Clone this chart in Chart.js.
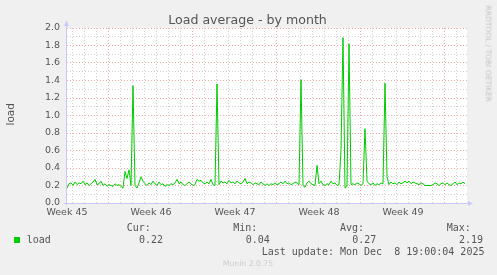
<!DOCTYPE html>
<html><head><meta charset="utf-8">
<script src="https://cdn.jsdelivr.net/npm/chart.js@4.4.1/dist/chart.umd.min.js"></script>
<style>
html,body{margin:0;padding:0;background:#F0F0F0;}
#wrap{position:relative;width:497px;height:275px;overflow:hidden;background:#F0F0F0;}
canvas{position:absolute;left:0;top:0;}
.t{position:absolute;white-space:pre;line-height:1;}
.mono{font-family:"DejaVu Sans Mono",monospace;font-size:10px;color:#555;}
</style></head>
<body><div id="wrap"><canvas id="c" width="497" height="275"></canvas>
<div class="t" style="left:0;top:13.6px;width:495px;text-align:center;font-family:'DejaVu Sans';font-size:12.6px;color:#555;">Load average - by month</div>
<div class="t" style="left:-9.6px;top:109.25px;width:40px;text-align:center;font-family:'DejaVu Sans';font-size:10.5px;color:#555;transform:rotate(-90deg);">load</div>
<div class="t" style="left:427.6px;top:49.75px;width:120px;text-align:center;font-family:'DejaVu Sans';font-size:7.5px;color:#C4C4C4;transform:rotate(90deg);">RRDTOOL / TOBI OETIKER</div>
<div style="position:absolute;left:14px;top:237px;width:6px;height:6px;background:#00CC00;"></div>
<div class="t mono" style="left:26.7px;top:234.7px;">load</div>
<div class="t mono" style="left:126.7px;top:223.2px;">Cur:</div>
<div class="t mono" style="left:233.3px;top:223.2px;">Min:</div>
<div class="t mono" style="left:340px;top:223.2px;">Avg:</div>
<div class="t mono" style="left:446.7px;top:223.2px;">Max:</div>
<div class="t mono" style="left:139px;top:234.7px;">0.22</div>
<div class="t mono" style="left:245.7px;top:234.7px;">0.04</div>
<div class="t mono" style="left:352.3px;top:234.7px;">0.27</div>
<div class="t mono" style="left:459px;top:234.7px;">2.19</div>
<div class="t mono" style="left:261.7px;top:246.5px;">Last update: Mon Dec  8 19:00:04 2025</div>
<div class="t" style="left:0;top:260.2px;width:496px;text-align:center;font-family:'DejaVu Sans';font-size:7.7px;color:#CCCCCC;">Munin 2.0.75</div>
</div>
<script>
// ---- data ----
const WEEK_LABELS = ['Week 45','Week 46','Week 47','Week 48','Week 49'];
const WEEK_CENTERS = [0, 7, 14, 21, 28];          // days from graph start
const DAY_LINE_OFFSET = 0.47;                      // first daily grid line (days)
const WEEK_LINE_OFFSET = 3.47;                     // first week boundary (days)
const RANGE_DAYS = 400 / 12;                       // graph span in days
const STEP_DAYS = 1 / 6;                           // one sample every 4 hours
const Y_MAX = 2.0;
const load = [
  0.17,0.22,0.23,0.20,0.24,0.21,0.23,0.22,0.25,0.21,
  0.23,0.20,0.22,0.24,0.27,0.21,0.22,0.25,0.20,0.22,
  0.19,0.21,0.20,0.19,0.22,0.20,0.21,0.19,0.17,0.36,
  0.28,0.38,0.20,1.34,0.20,0.17,0.23,0.30,0.25,0.22,
  0.20,0.23,0.21,0.25,0.22,0.20,0.24,0.21,0.22,0.19,
  0.21,0.20,0.22,0.21,0.23,0.27,0.22,0.24,0.21,0.20,
  0.22,0.24,0.22,0.20,0.21,0.27,0.25,0.26,0.23,0.22,
  0.24,0.22,0.27,0.21,0.20,1.36,0.21,0.25,0.23,0.24,
  0.22,0.26,0.23,0.24,0.22,0.25,0.23,0.22,0.24,0.28,
  0.22,0.24,0.23,0.21,0.23,0.22,0.21,0.24,0.22,0.20,
  0.22,0.20,0.22,0.21,0.23,0.21,0.22,0.24,0.22,0.25,
  0.22,0.23,0.21,0.22,0.24,0.23,0.21,1.41,0.20,0.18,
  0.23,0.25,0.22,0.21,0.20,0.43,0.22,0.25,0.21,0.20,
  0.22,0.21,0.25,0.22,0.23,0.20,0.21,0.60,1.89,0.17,
  0.19,1.82,0.21,0.22,0.21,0.23,0.22,0.20,0.22,0.85,
  0.25,0.22,0.21,0.23,0.20,0.22,0.21,0.23,0.22,1.37,
  0.30,0.21,0.24,0.22,0.23,0.21,0.24,0.22,0.23,0.25,
  0.23,0.25,0.22,0.24,0.23,0.22,0.21,0.23,0.22,0.20,
  0.20,0.20,0.20,0.21,0.23,0.22,0.20,0.22,0.23,0.21,
  0.23,0.21,0.20,0.22,0.24,0.21,0.23,0.22,0.24,0.22
];

// ---- styles ----
const LINE_COLOR = '#00CC00';
const MAJOR_GRID = 'rgba(238,110,110,0.6)';
const MINOR_GRID = 'rgba(150,150,150,0.45)';
const AXIS_COLOR = 'rgb(200,200,255)';
const TEXT_COLOR = '#555';

const points = load.map((v, i) => ({x: i * STEP_DAYS, y: v}));

function buildXTicks() {
  const t = [];
  WEEK_CENTERS.forEach((v, i) => t.push({value: v, kind: 'label', idx: i}));
  for (let d = DAY_LINE_OFFSET; d < RANGE_DAYS; d += 1) {
    const k = Math.round(d - DAY_LINE_OFFSET);
    const major = ((k - Math.round(WEEK_LINE_OFFSET - DAY_LINE_OFFSET)) % 7) === 0;
    t.push({value: DAY_LINE_OFFSET + k, kind: major ? 'major' : 'minor'});
  }
  t.sort((a, b) => a.value - b.value);
  return t;
}

const bgPlugin = {
  id: 'bg',
  beforeDraw(chart) {
    const {ctx, chartArea: a} = chart;
    ctx.save();
    ctx.fillStyle = '#FFFFFF';
    ctx.fillRect(a.left, a.top, a.right - a.left, a.bottom - a.top);
    ctx.restore();
  },
  afterDatasetsDraw(chart) {
    const {ctx, chartArea: a} = chart;
    ctx.save();
    ctx.strokeStyle = AXIS_COLOR;
    ctx.fillStyle = AXIS_COLOR;
    ctx.lineWidth = 1;
    const x0 = Math.floor(a.left) - 0.5, y0 = Math.floor(a.bottom) + 0.5;
    ctx.beginPath();
    ctx.moveTo(x0, y0 + 2); ctx.lineTo(x0, a.top - 3);
    ctx.moveTo(x0 - 3, y0); ctx.lineTo(a.right + 2, y0);
    ctx.stroke();
    ctx.beginPath();
    ctx.moveTo(x0 - 2.5, a.top - 2); ctx.lineTo(x0 + 2.5, a.top - 2); ctx.lineTo(x0, a.top - 7.5); ctx.closePath();
    ctx.fill();
    ctx.beginPath();
    ctx.moveTo(a.right + 1, y0 - 2.5); ctx.lineTo(a.right + 1, y0 + 2.5); ctx.lineTo(a.right + 6, y0); ctx.closePath();
    ctx.fill();
    ctx.restore();
  }
};

new Chart(document.getElementById('c'), {
  type: 'line',
  data: {
    datasets: [{
      label: 'load',
      data: points,
      borderColor: LINE_COLOR,
      borderWidth: 1,
      pointRadius: 0,
      tension: 0,
      fill: false
    }]
  },
  options: {
    responsive: false,
    animation: false,
    devicePixelRatio: 1,
    layout: {padding: {top: 28, right: 30, bottom: 52, left: 0}},
    plugins: {legend: {display: false}, tooltip: {enabled: false}, title: {display: false}},
    scales: {
      x: {
        type: 'linear',
        min: 0,
        max: RANGE_DAYS,
        afterFit(s) { s.height = 20; },
        afterBuildTicks(s) { s.ticks = buildXTicks(); },
        border: {display: false, dash: [1, 2]},
        grid: {
          drawTicks: false,
          color(ctx) {
            const k = ctx.tick && ctx.tick.kind;
            if (k === 'label') return 'rgba(0,0,0,0)';
            return k === 'major' ? MAJOR_GRID : MINOR_GRID;
          }
        },
        ticks: {
          autoSkip: false,
          maxRotation: 0,
          padding: 4,
          color: TEXT_COLOR,
          font: {family: 'DejaVu Sans', size: 9.5},
          callback(value, index, ticks) {
            const t = ticks[index];
            return t.kind === 'label' ? WEEK_LABELS[t.idx] : '';
          }
        }
      },
      y: {
        type: 'linear',
        min: 0,
        max: Y_MAX,
        afterFit(s) { s.width = 67; },
        border: {display: false, dash: [1, 2]},
        grid: {
          drawTicks: false,
          color(ctx) {
            const v = ctx.tick ? ctx.tick.value : 0;
            return Math.round(v * 10) % 2 === 0 ? MAJOR_GRID : MINOR_GRID;
          }
        },
        ticks: {
          stepSize: 0.1,
          autoSkip: false,
          padding: 7,
          color: TEXT_COLOR,
          font: {family: 'DejaVu Sans', size: 9.5},
          callback(value) {
            return Math.round(value * 10) % 2 === 0 ? value.toFixed(1) : '';
          }
        }
      }
    }
  },
  plugins: [bgPlugin]
});
</script>
</body></html>
